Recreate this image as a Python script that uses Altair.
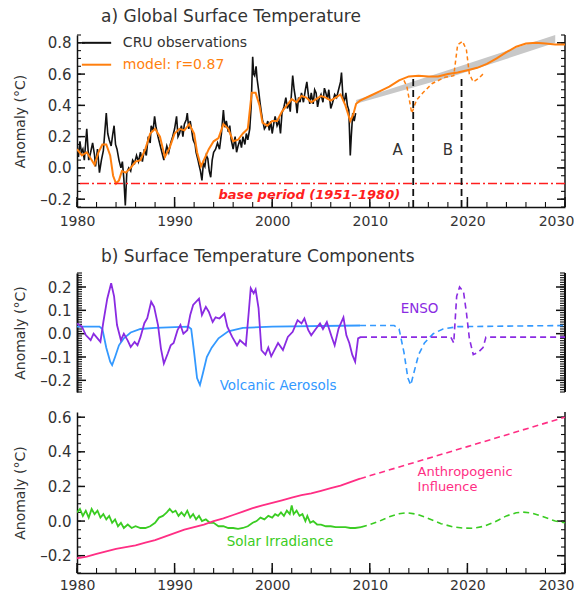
import altair as alt
import pandas as pd

# ---------------- Panel a: global surface temperature ----------------
cru_year = [1980.0, 1980.15, 1980.3, 1980.45, 1980.6, 1980.75, 1981.0, 1981.2, 1981.4, 1981.6, 1981.8, 1981.9,
            1982.1, 1982.3, 1982.5, 1982.7, 1983.0, 1983.15, 1983.3, 1983.5, 1983.65, 1983.8, 1983.95,
            1984.1, 1984.3, 1984.5, 1984.65, 1984.8, 1984.95, 1985.1, 1985.3, 1985.5, 1985.7, 1985.9,
            1986.1, 1986.3, 1986.5, 1986.7, 1986.9, 1987.1, 1987.3, 1987.5, 1987.6, 1987.8, 1987.95,
            1988.1, 1988.3, 1988.5, 1988.7, 1988.9, 1989.0, 1989.2, 1989.4, 1989.6, 1989.8, 1990.0,
            1990.2, 1990.35, 1990.5, 1990.7, 1990.85, 1991.0, 1991.2, 1991.3, 1991.45, 1991.6, 1991.8,
            1991.9, 1992.1, 1992.2, 1992.4, 1992.5, 1992.65, 1992.8, 1992.95, 1993.1, 1993.25, 1993.4,
            1993.55, 1993.7, 1993.85, 1994.0, 1994.2, 1994.4, 1994.6, 1994.8, 1995.0, 1995.15, 1995.3,
            1995.5, 1995.65, 1995.8, 1996.0, 1996.2, 1996.35, 1996.5, 1996.7, 1996.85, 1997.0, 1997.2,
            1997.35, 1997.5, 1997.7, 1997.85, 1998.0, 1998.1, 1998.2, 1998.35, 1998.45, 1998.6, 1998.75,
            1998.9, 1999.0, 1999.2, 1999.4, 1999.55, 1999.7, 1999.85, 2000.0, 2000.15, 2000.3, 2000.5,
            2000.7, 2000.85, 2001.0, 2001.2, 2001.4, 2001.55, 2001.7, 2001.85, 2002.0, 2002.1, 2002.25,
            2002.4, 2002.55, 2002.7, 2002.85, 2003.0, 2003.2, 2003.4, 2003.55, 2003.7, 2003.85, 2004.0,
            2004.2, 2004.35, 2004.5, 2004.65, 2004.8, 2005.0, 2005.2, 2005.35, 2005.5, 2005.65, 2005.8,
            2006.0, 2006.2, 2006.4, 2006.6, 2006.8, 2007.0, 2007.1, 2007.25, 2007.4, 2007.55, 2007.7,
            2007.85, 2008.0, 2008.1, 2008.25, 2008.4, 2008.55]
cru_val = [0.14, 0.07, 0.17, 0.10, 0.12, 0.05, 0.25, 0.05, 0.10, 0.16, 0.08, 0.01,
           0.12, -0.03, 0.05, 0.11, 0.35, 0.22, 0.18, 0.14, 0.21, 0.27, 0.15,
           0.12, 0.05, 0.00, 0.04, -0.07, -0.24, -0.03, 0.00, -0.02, 0.05, 0.03,
           0.08, 0.04, 0.10, 0.04, 0.12, 0.08, 0.20, 0.16, 0.27, 0.24, 0.33,
           0.26, 0.20, 0.15, 0.10, 0.05, 0.08, 0.14, 0.10, 0.16, 0.20, 0.25,
           0.33, 0.20, 0.22, 0.27, 0.20, 0.28, 0.31, 0.35, 0.25, 0.30, 0.22,
           0.18, 0.15, 0.10, 0.05, 0.02, -0.02, -0.08, 0.03, 0.01, 0.08, 0.06,
           -0.02, -0.06, 0.05, 0.10, 0.12, 0.16, 0.12, 0.22, 0.37, 0.26, 0.30,
           0.23, 0.27, 0.18, 0.12, 0.20, 0.10, 0.14, 0.18, 0.13, 0.20, 0.15,
           0.22, 0.18, 0.25, 0.40, 0.71, 0.60, 0.59, 0.65, 0.57, 0.50, 0.42,
           0.35, 0.31, 0.25, 0.27, 0.30, 0.24, 0.30, 0.22, 0.28, 0.33, 0.27,
           0.30, 0.22, 0.35, 0.39, 0.45, 0.38, 0.42, 0.36, 0.50, 0.59, 0.50,
           0.44, 0.35, 0.45, 0.42, 0.48, 0.42, 0.50, 0.55, 0.47, 0.41, 0.48,
           0.41, 0.50, 0.48, 0.39, 0.44, 0.47, 0.42, 0.51, 0.48, 0.44, 0.50,
           0.38, 0.42, 0.47, 0.45, 0.50, 0.55, 0.61, 0.45, 0.43, 0.48, 0.40,
           0.37, 0.08, 0.20, 0.35, 0.30, 0.35]

model_year = [1980.0, 1980.5, 1981.0, 1981.5, 1981.8, 1982.2, 1982.6, 1983.0, 1983.4, 1983.7, 1984.0,
              1984.3, 1984.6, 1985.0, 1985.5, 1986.0, 1986.5, 1987.0, 1987.5, 1988.0, 1988.5, 1989.0,
              1989.5, 1990.0, 1990.5, 1991.0, 1991.5, 1992.0, 1992.3, 1992.7, 1993.0, 1993.5, 1994.0,
              1994.5, 1995.0, 1995.5, 1996.0, 1996.5, 1997.0, 1997.5, 1997.9, 1998.3, 1998.7, 1999.0,
              1999.5, 2000.0, 2000.5, 2001.0, 2001.5, 2002.0, 2002.5, 2003.0, 2003.5, 2004.0, 2004.5,
              2005.0, 2005.5, 2006.0, 2006.5, 2007.0, 2007.5, 2008.0, 2008.3, 2008.6, 2009.0, 2010.0,
              2011.0, 2012.0, 2013.0, 2014.0, 2015.0, 2016.0, 2017.0, 2018.0, 2019.0, 2020.0, 2021.0,
              2022.0, 2023.0, 2024.0, 2025.0, 2026.0, 2027.0, 2028.0, 2029.0, 2030.0]
model_val = [0.12, 0.08, 0.10, 0.05, 0.02, 0.10, 0.15, 0.15, 0.08, -0.05, -0.10,
             -0.08, -0.02, -0.03, 0.00, 0.04, 0.05, 0.12, 0.22, 0.25, 0.20, 0.07,
             0.13, 0.22, 0.25, 0.24, 0.28, 0.22, 0.10, 0.01, 0.05, 0.12, 0.17,
             0.19, 0.28, 0.25, 0.17, 0.18, 0.22, 0.25, 0.48, 0.48, 0.40, 0.29,
             0.27, 0.30, 0.30, 0.36, 0.40, 0.44, 0.42, 0.46, 0.45, 0.42, 0.44,
             0.46, 0.45, 0.43, 0.45, 0.47, 0.40, 0.30, 0.34, 0.41, 0.43, 0.46,
             0.49, 0.52, 0.56, 0.585, 0.59, 0.585, 0.585, 0.60, 0.61, 0.625, 0.64,
             0.665, 0.70, 0.74, 0.775, 0.795, 0.80, 0.795, 0.79, 0.79]

scen_year = [2013.5, 2013.8, 2014.3, 2014.8, 2015.4, 2016.4, 2017.7, 2018.6, 2019.0, 2019.5, 2019.9,
             2020.2, 2020.6, 2021.1, 2021.6]
scen_val = [0.56, 0.52, 0.35, 0.435, 0.478, 0.54, 0.58, 0.59, 0.787, 0.81, 0.755,
            0.60, 0.55, 0.57, 0.60]

band_year = [2008.6, 2019.0, 2029.0]
band_low = [0.41, 0.595, 0.80]
band_high = [0.435, 0.645, 0.85]

marker_year = [2014.45, 2019.4]
marker_top = [0.585, 0.59]
marker_name = ["A", "B"]
marker_label_year = [2012.85, 2018.0]
marker_label_val = [0.114, 0.114]

base_level = [-0.1]

# ---------------- Panel b: components ----------------
volc_year = [1980.0, 1982.3, 1982.6, 1983.0, 1983.4, 1983.6, 1983.9, 1984.3, 1984.8, 1985.5, 1986.5,
             1988.0, 1991.4, 1991.7, 1992.0, 1992.3, 1992.6, 1992.9, 1993.3, 1993.8, 1994.5, 1995.5,
             1997.0, 2000.0, 2009.0]
volc_val = [0.03, 0.03, 0.02, -0.06, -0.12, -0.135, -0.10, -0.05, -0.02, 0.005, 0.02,
            0.025, 0.03, 0.02, -0.08, -0.19, -0.22, -0.17, -0.10, -0.06, -0.02, 0.01,
            0.025, 0.03, 0.035]
volc_proj_year = [2009.0, 2012.5, 2013.0, 2013.5, 2013.9, 2014.2, 2014.5, 2015.0, 2015.6, 2016.5,
                  2017.5, 2019.0, 2030.0]
volc_proj_val = [0.035, 0.035, 0.02, -0.08, -0.19, -0.22, -0.17, -0.09, -0.04, 0.0,
                 0.02, 0.03, 0.035]

enso_year = [1980.0, 1980.5, 1980.9, 1981.4, 1981.7, 1982.1, 1982.4, 1982.7, 1983.1, 1983.5, 1983.8,
             1984.1, 1984.5, 1984.8, 1985.2, 1985.5, 1985.9, 1986.2, 1986.5, 1986.9, 1987.2, 1987.6,
             1987.9, 1988.3, 1988.6, 1988.9, 1989.3, 1989.6, 1989.9, 1990.3, 1990.6, 1990.9, 1991.3,
             1991.6, 1991.9, 1992.5, 1992.8, 1993.2, 1993.5, 1993.9, 1994.2, 1994.6, 1995.1, 1995.4,
             1995.9, 1996.4, 1996.7, 1997.3, 1997.6, 1997.8, 1998.1, 1998.3, 1998.6, 1998.9, 1999.3,
             1999.6, 1999.9, 2000.6, 2001.1, 2001.6, 2002.1, 2002.6, 2003.0, 2003.3, 2003.7, 2004.0,
             2004.5, 2004.9, 2005.2, 2005.6, 2006.1, 2006.4, 2006.8, 2007.3, 2007.6, 2007.9, 2008.2,
             2008.5, 2008.8, 2009.1]
enso_val = [0.044, 0.03, -0.006, -0.028, 0.0, -0.02, -0.035, 0.05, 0.15, 0.216, 0.16,
            0.037, -0.028, 0.0, -0.03, -0.057, -0.035, -0.05, -0.015, 0.045, 0.066, 0.137,
            0.115, 0.037, -0.064, -0.128, -0.085, -0.05, -0.04, 0.015, 0.037, 0.0, 0.015,
            0.08, 0.123, 0.15, 0.08, 0.115, 0.094, 0.05, 0.07, 0.065, 0.086, 0.03,
            -0.014, -0.05, -0.028, -0.05, 0.094, 0.195, 0.173, 0.19, 0.11, -0.071, -0.09,
            -0.06, -0.097, -0.04, -0.07, -0.014, 0.008, 0.058, 0.044, 0.065, 0.015, -0.007,
            0.022, 0.044, 0.02, 0.05, -0.014, -0.05, 0.022, 0.07, -0.007, -0.04, -0.09,
            -0.12, -0.02, -0.014]
enso_proj_year = [2009.1, 2018.3, 2018.6, 2018.9, 2019.2, 2019.6, 2019.9, 2020.2, 2020.6, 2021.1,
                  2021.6, 2021.9, 2030.0]
enso_proj_val = [-0.015, -0.015, -0.04, 0.16, 0.20, 0.18, 0.09, -0.02, -0.09, -0.08,
                 -0.06, -0.015, -0.015]

# ---------------- Panel c: solar and anthropogenic ----------------
solar_year = [1980.0, 1980.3, 1980.6, 1980.9, 1981.2, 1981.5, 1981.8, 1982.1, 1982.4, 1982.7, 1983.0,
              1983.3, 1983.6, 1983.9, 1984.2, 1984.5, 1984.8, 1985.2, 1985.6, 1986.0, 1986.5, 1987.0,
              1987.5, 1988.0, 1988.4, 1988.8, 1989.2, 1989.5, 1989.8, 1990.1, 1990.4, 1990.7, 1991.0,
              1991.3, 1991.6, 1991.9, 1992.2, 1992.5, 1992.8, 1993.2, 1993.6, 1994.0, 1994.5, 1995.0,
              1995.5, 1996.0, 1996.5, 1997.0, 1997.5, 1998.0, 1998.4, 1998.8, 1999.2, 1999.6, 2000.0,
              2000.3, 2000.6, 2000.9, 2001.2, 2001.5, 2001.8, 2002.0, 2002.2, 2002.5, 2002.8, 2003.1,
              2003.4, 2003.6, 2003.9, 2004.2, 2004.6, 2005.0, 2005.5, 2006.0, 2006.5, 2007.0, 2007.5,
              2008.0, 2008.5, 2009.1]
solar_val = [0.05, 0.07, 0.03, 0.06, 0.02, 0.07, 0.04, 0.06, 0.02, 0.04, 0.01,
             0.03, -0.01, 0.01, -0.03, -0.01, -0.04, -0.02, -0.04, -0.03, -0.04, -0.04,
             -0.03, -0.01, 0.02, 0.03, 0.05, 0.07, 0.05, 0.06, 0.03, 0.05, 0.03,
             0.06, 0.02, 0.04, 0.01, 0.03, 0.0, 0.01, -0.01, -0.01, -0.03, -0.03,
             -0.04, -0.04, -0.045, -0.04, -0.03, -0.01, 0.0, 0.02, 0.01, 0.03, 0.02,
             0.04, 0.03, 0.05, 0.03, 0.06, 0.04, 0.09, 0.04, 0.06, 0.03, 0.04,
             0.0, 0.03, -0.01, 0.0, -0.02, -0.02, -0.03, -0.03, -0.035, -0.035, -0.035,
             -0.04, -0.04, -0.035]
solar_proj_year = [2009.1, 2010.0, 2011.0, 2012.0, 2013.0, 2013.8, 2014.8, 2016.0, 2017.3, 2018.5,
                   2019.5, 2020.6, 2021.7, 2022.8, 2024.0, 2025.0, 2025.7, 2026.7, 2028.0, 2029.0,
                   2030.0]
solar_proj_val = [-0.035, -0.02, 0.0, 0.025, 0.042, 0.048, 0.04, 0.015, -0.015, -0.033,
                  -0.04, -0.042, -0.03, -0.005, 0.03, 0.048, 0.052, 0.045, 0.02, 0.0,
                  -0.01]

anthro_year = [1980, 1981, 1982, 1983, 1984, 1985, 1986, 1987, 1988, 1989, 1990, 1991, 1992, 1993,
               1994, 1995, 1996, 1997, 1998, 1999, 2000, 2001, 2002, 2003, 2004, 2005, 2006, 2007,
               2008, 2009]
anthro_val = [-0.215, -0.205, -0.19, -0.175, -0.16, -0.15, -0.14, -0.125, -0.11, -0.09, -0.07,
              -0.05, -0.035, -0.02, 0.0, 0.015, 0.035, 0.055, 0.075, 0.09, 0.105, 0.12, 0.135,
              0.15, 0.16, 0.175, 0.19, 0.205, 0.225, 0.245]
anthro_proj_year = [2009.0, 2020.0, 2030.0]
anthro_proj_val = [0.245, 0.43, 0.60]

# ---------------- styling ----------------
FONT = "DejaVu Sans"
W = 488
HA, HB, HC = 172, 119, 161
BLACK = "#111111"
ORANGE = "#FF7F0E"
RED = "#FF1E1E"
GRAY = "#C8C8C8"
PURPLE = "#8A2BE2"
BLUE = "#3399FF"
GREEN = "#3ACC22"
PINK = "#FF2E84"
TXT = "#333333"

X_MAJOR = [1980, 1990, 2000, 2010, 2020, 2030]
X_MINOR = [1980 + 2 * i for i in range(26)]

xs = alt.Scale(domain=[1980, 2030], nice=False, zero=False)


def frame(x, y):
    return pd.DataFrame({"x": x, "y": y})


def line(df, color, width, ys, dash=None):
    kw = dict(color=color, strokeWidth=width, clip=True)
    if dash:
        kw["strokeDash"] = dash
    return alt.Chart(df).mark_line(**kw).encode(
        x=alt.X("x:Q", scale=xs, axis=None),
        y=alt.Y("y:Q", scale=ys, axis=None),
    )


def text(df, color, ys, size=13, **kw):
    return alt.Chart(df).mark_text(color=color, fontSize=size, font=FONT, **kw).encode(
        x=alt.X("x:Q", scale=xs, axis=None),
        y=alt.Y("y:Q", scale=ys, axis=None),
        text="t:N",
    )


def axes(ys, ymaj, ymin, H, xaxis=True, majlen=8, minlen=4, dwidth=1.5, xlabpad=6, spacer=None):
    """Labelled left/bottom axes plus inward tick marks on left, right and bottom edges."""
    dummy = pd.DataFrame({"x": [1990.0], "y": [0.0]})
    lab = dict(labelFont=FONT, labelColor=TXT, domainColor=BLACK, domainWidth=dwidth, grid=False)
    yl = alt.Axis(orient="left", values=ymaj, format=".1f", labelExpr="replace(datum.label, '−', '–')",
                  tickSize=0, labelPadding=6, labelFontSize=15, title="Anomaly (°C)", titleFont=FONT,
                  titleFontSize=14, titleFontWeight="normal", titleColor=TXT, titlePadding=12, **lab)
    xextra = dict(title=None)
    if spacer:
        # blank title that only reserves a little room below the tick labels
        xextra = dict(title=" ", titleFontSize=spacer, titlePadding=0, titleColor="#FFFFFF")
    xl = (alt.Axis(orient="bottom", values=X_MAJOR, format="d", tickSize=0, labelPadding=xlabpad,
                   labelFontSize=14, labelFlush=False,
                   labelOffset={"condition": {"test": "datum.value == 2030", "value": -9}, "value": 0},
                   **xextra, **lab) if xaxis else None)
    layers = [alt.Chart(dummy).mark_point(opacity=0).encode(
        x=alt.X("x:Q", scale=xs, axis=xl), y=alt.Y("y:Q", scale=ys, axis=yl))]

    def ytick(vals, x0, x1, w):
        return alt.Chart(pd.DataFrame({"y": vals})).mark_rule(color=BLACK, strokeWidth=w).encode(
            y=alt.Y("y:Q", scale=ys, axis=None), x=alt.value(x0), x2=alt.value(x1))

    layers += [ytick(ymaj, 0, majlen, 1.5), ytick(ymin, 0, minlen, 1.1),
               ytick(ymaj, W - majlen, W, 1.5), ytick(ymin, W - minlen, W, 1.1)]
    # right-hand frame line
    layers.append(alt.Chart(dummy).mark_rule(color=BLACK, strokeWidth=dwidth).encode(
        x=alt.value(W), y=alt.value(0), y2=alt.value(H)))
    if xaxis:
        def xtick(vals, ln, w):
            return alt.Chart(pd.DataFrame({"x": vals})).mark_rule(color=BLACK, strokeWidth=w).encode(
                x=alt.X("x:Q", scale=xs, axis=None), y=alt.value(H - ln), y2=alt.value(H))
        layers += [xtick(X_MAJOR, 10, 1.5), xtick(X_MINOR, 5, 1.1)]
    return layers


def title(t, offset):
    return alt.TitleParams(t, anchor="start", frame="group", dx=24, fontSize=17, font=FONT,
                           fontWeight="normal", color=TXT, offset=offset)


# ---------------- Panel a ----------------
ysa = alt.Scale(domain=[-0.25, 0.85], nice=False, zero=False)
band_df = pd.DataFrame({"x": band_year, "lo": band_low, "hi": band_high})
band = alt.Chart(band_df).mark_area(color=GRAY, opacity=1).encode(
    x=alt.X("x:Q", scale=xs, axis=None),
    y=alt.Y("lo:Q", scale=ysa, axis=None),
    y2="hi:Q",
)
base_rule = alt.Chart(pd.DataFrame({"y": base_level})).mark_rule(
    color=RED, strokeWidth=1.6, strokeDash=[9, 3, 2, 3]).encode(y=alt.Y("y:Q", scale=ysa, axis=None))
mk_df = pd.DataFrame({"x": marker_year, "lo": [-0.25, -0.25], "hi": marker_top})
markers = alt.Chart(mk_df).mark_rule(color=BLACK, strokeWidth=1.8, strokeDash=[7, 4]).encode(
    x=alt.X("x:Q", scale=xs, axis=None),
    y=alt.Y("lo:Q", scale=ysa, axis=None),
    y2="hi:Q",
)
mk_lab = text(pd.DataFrame({"x": marker_label_year, "y": marker_label_val, "t": marker_name}), TXT, ysa, size=15)
base_lab = text(pd.DataFrame({"x": [2003.8], "y": [-0.175], "t": ["base period (1951–1980)"]}), RED, ysa,
                size=13, fontStyle="italic", fontWeight="bold")
leg_lines = alt.Chart(pd.DataFrame({"x": [1980.5, 1980.5], "x2": [1983.5, 1983.5], "y": [0.80, 0.66],
                                    "c": ["CRU observations", "model: r=0.87"]})).mark_rule(strokeWidth=2).encode(
    x=alt.X("x:Q", scale=xs, axis=None), x2="x2:Q",
    y=alt.Y("y:Q", scale=ysa, axis=None),
    color=alt.Color("c:N", scale=alt.Scale(domain=["CRU observations", "model: r=0.87"], range=[BLACK, ORANGE]),
                    legend=None),
)
leg_cru = text(pd.DataFrame({"x": [1984.7], "y": [0.80], "t": ["CRU observations"]}), TXT, ysa, size=14, align="left")
leg_mod = text(pd.DataFrame({"x": [1984.7], "y": [0.66], "t": ["model: r=0.87"]}), ORANGE, ysa, size=14, align="left")

panel_a = alt.layer(
    *axes(ysa, [-0.2, 0.0, 0.2, 0.4, 0.6, 0.8], [-0.25 + 0.05 * i for i in range(23)], HA,
          xlabpad=7, spacer=2.5),
    band,
    line(frame(cru_year, cru_val), BLACK, 1.6, ysa),
    line(frame(model_year, model_val), ORANGE, 2.0, ysa),
    line(frame(scen_year, scen_val), ORANGE, 1.5, ysa, dash=[4, 3]),
    base_rule, markers, mk_lab, base_lab, leg_lines, leg_cru, leg_mod,
).resolve_axis(x="independent", y="independent").properties(
    width=W, height=HA, title=title("a) Global Surface Temperature", 8))

# ---------------- Panel b ----------------
ysb = alt.Scale(domain=[-0.25, 0.26], nice=False, zero=False)
enso_lab = text(pd.DataFrame({"x": [2015.1], "y": [0.105], "t": ["ENSO"]}), PURPLE, ysb, size=13.5)
volc_lab = text(pd.DataFrame({"x": [2000.6], "y": [-0.226], "t": ["Volcanic Aerosols"]}), BLUE, ysb, size=13.5)
panel_b = alt.layer(
    *axes(ysb, [-0.2, -0.1, 0.0, 0.1, 0.2], [-0.25 + 0.01 * i for i in range(52)], HB, xaxis=False,
          majlen=9, minlen=5, dwidth=2),
    line(frame(volc_year, volc_val), BLUE, 1.8, ysb),
    line(frame(volc_proj_year, volc_proj_val), BLUE, 1.6, ysb, dash=[6, 4]),
    line(frame(enso_year, enso_val), PURPLE, 1.8, ysb),
    line(frame(enso_proj_year, enso_proj_val), PURPLE, 1.6, ysb, dash=[6, 4]),
    enso_lab, volc_lab,
).resolve_axis(x="independent", y="independent").properties(
    width=W, height=HB, title=title("b) Surface Temperature Components", 6))

# ---------------- Panel c ----------------
ysc = alt.Scale(domain=[-0.3, 0.63], nice=False, zero=False)
anth_lab = text(pd.DataFrame({"x": [2014.9, 2014.9], "y": [0.282, 0.194], "t": ["Anthropogenic", "Influence"]}),
                PINK, ysc, size=13, align="left")
sol_lab = text(pd.DataFrame({"x": [2000.8], "y": [-0.122], "t": ["Solar Irradiance"]}), GREEN, ysc, size=13.5)
panel_c = alt.layer(
    *axes(ysc, [-0.2, 0.0, 0.2, 0.4, 0.6], [-0.3 + 0.05 * i for i in range(19)], HC, xlabpad=5),
    line(frame(solar_year, solar_val), GREEN, 1.8, ysc),
    line(frame(solar_proj_year, solar_proj_val), GREEN, 1.6, ysc, dash=[6, 4]),
    line(frame(anthro_year, anthro_val), PINK, 1.8, ysc),
    line(frame(anthro_proj_year, anthro_proj_val), PINK, 1.6, ysc, dash=[6, 4]),
    anth_lab, sol_lab,
).resolve_axis(x="independent", y="independent").properties(width=W, height=HC)

chart = alt.vconcat(panel_a, panel_b, panel_c, spacing=17).properties(
    padding={"left": 5, "top": 0, "right": 0, "bottom": 0}
).configure_view(stroke=None)

chart.save("out.html", embed_options={"renderer": "svg", "actions": False})
